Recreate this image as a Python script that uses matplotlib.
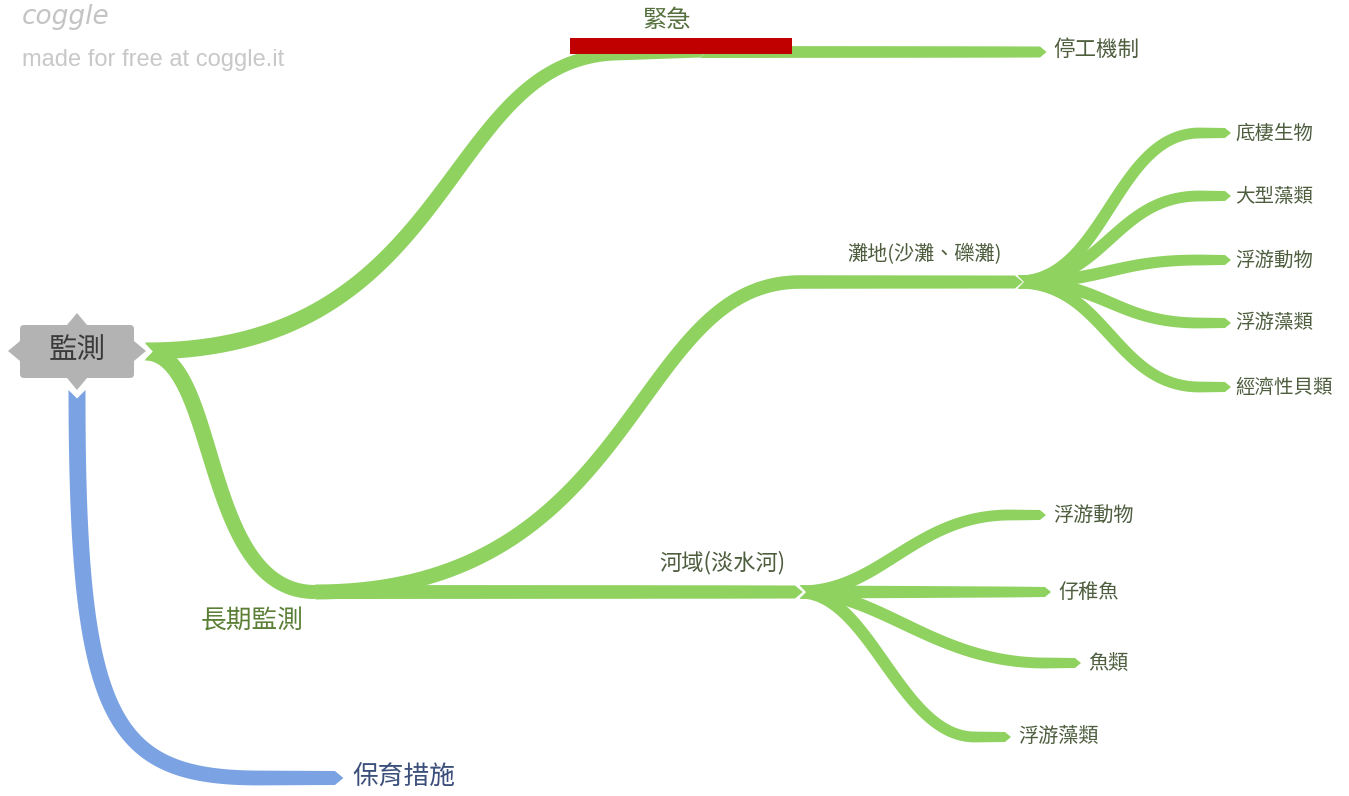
import numpy as np
import matplotlib.pyplot as plt
from matplotlib.patches import Polygon, FancyBboxPatch

plt.rcParams['font.family'] = ['Noto Sans CJK TC', 'DejaVu Sans']

# ------------------------------------------------------------
# Data: nodes of the mind map (pixel coords of the reference)
# ------------------------------------------------------------
root_label = '監測'
root_box = (20, 325, 114, 53)          # x, y, w, h
root_center = (77, 351)

green = '#8fd260'
blue = '#7ba3e3'

# branches: start, ctrl1, ctrl2, end of curve, straight end
branch_names = ['緊急', '停工機制', '長期監測', '灘地(沙灘、礫灘)', '河域(淡水河)', '保育措施']
branch_paths = [
    [(145, 351), (460, 351), (440, 55), (620, 54), (700, 52)],
    [(700, 52), (800, 52), (950, 52), (1000, 52), (1040, 52)],
    [(145, 352), (220, 352), (200, 592), (315, 592), (315, 592)],
    [(315, 592), (640, 592), (630, 282), (800, 282), (1015, 282)],
    [(315, 592), (500, 592), (700, 592), (750, 592), (795, 592)],
    [(77, 390), (77, 720), (110, 778), (260, 778), (335, 778)],
]
branch_widths = [(17, 11), (12, 11), (17, 14), (15, 13), (14, 13), (17, 14)]
branch_colors = [green, green, green, green, green, blue]

# leaves from 灘地
tan_leaves = ['底棲生物', '大型藻類', '浮游動物', '浮游藻類', '經濟性貝類']
tan_leaf_y = [133, 196, 260, 323, 387]
tan_start = (1018, 282)
tan_end_x = 1225

# leaves from 河域
he_leaves = ['浮游動物', '仔稚魚', '魚類', '浮游藻類']
he_leaf_end = [(1040, 515), (1045, 592), (1075, 663), (1005, 737)]
he_ctrl = [((880, 592), (915, 515)), ((900, 592), (950, 592)),
           ((880, 592), (935, 663)), ((870, 592), (900, 737))]
he_start = (800, 592)

txt_col = '#4d5d3e'


def bezier(p0, p1, p2, p3, n=80):
    t = np.linspace(0, 1, n)[:, None]
    p0, p1, p2, p3 = map(np.array, (p0, p1, p2, p3))
    return ((1 - t) ** 3) * p0 + 3 * ((1 - t) ** 2) * t * p1 + 3 * (1 - t) * t ** 2 * p2 + t ** 3 * p3


def branch(ax, path, w0, w1, color, notch=True):
    pts = bezier(*path[:4])
    if path[4] != path[3]:
        ext = np.linspace(path[3], path[4], 30)[1:]
        pts = np.vstack([pts, ext])
    d = np.gradient(pts, axis=0)
    d /= np.linalg.norm(d, axis=1)[:, None] + 1e-9
    nrm = np.column_stack([-d[:, 1], d[:, 0]])
    s = np.linspace(0, 1, len(pts))[:, None]
    w = (w0 + (w1 - w0) * s) / 2
    left = pts + nrm * w
    right = pts - nrm * w
    tip = pts[-1] + d[-1] * w1 * 0.6
    poly = [*left, tip, *right[::-1]]
    if notch:
        poly.append(pts[0] + d[0] * w0 * 0.5)
    ax.add_patch(Polygon(poly, closed=True, fc=color, ec='none', zorder=2))


fig = plt.figure(figsize=(13.49, 7.96), dpi=100)
ax = fig.add_axes([0, 0, 1, 1])
ax.set_xlim(0, 1349)
ax.set_ylim(796, 0)
ax.axis('off')

# branches
for p, (w0, w1), c in zip(branch_paths, branch_widths, branch_colors):
    branch(ax, p, w0, w1, c)

for y, lab in zip(tan_leaf_y, tan_leaves):
    p0 = tan_start
    p3 = (tan_end_x - 25, y)
    branch(ax, [p0, (1105, p0[1]), (1115, y), p3, (tan_end_x, y)], 13, 10, green)
    ax.text(1235, y, lab, fontsize=14, color=txt_col, va='center', ha='left', weight='medium')

for (ex, ey), (c1, c2), lab in zip(he_leaf_end, he_ctrl, he_leaves):
    branch(ax, [he_start, c1, c2, (ex - 30, ey), (ex, ey)], 13, 10, green)
    ax.text(ex + 13, ey, lab, fontsize=14.5, color=txt_col, va='center', ha='left', weight='medium')

# root node
bx, by, bw, bh = root_box
ax.add_patch(FancyBboxPatch((bx, by), bw, bh, boxstyle='round,pad=0,rounding_size=4',
                            fc='#b3b3b3', ec='none', zorder=3))
cx, cy = root_center
for tri in [[(bx, cy - 10), (bx - 12, cy), (bx, cy + 10)],
            [(bx + bw, cy - 10), (bx + bw + 12, cy), (bx + bw, cy + 10)],
            [(cx - 10, by), (cx, by - 12), (cx + 10, by)],
            [(cx - 10, by + bh), (cx, by + bh + 12), (cx + 10, by + bh)]]:
    ax.add_patch(Polygon(tri, closed=True, fc='#b3b3b3', ec='none', zorder=3))
ax.text(cx, cy, root_label, fontsize=20.5, color='#3a3a3a', ha='center', va='center',
        zorder=4, weight='medium')

# red highlight bar
ax.add_patch(plt.Rectangle((570, 38), 222, 16, fc='#c00000', ec='none', zorder=5))

# branch labels
ax.text(667, 20, branch_names[0], fontsize=17.5, color='#56703d', ha='center', va='center', weight='medium')
ax.text(1053, 50, branch_names[1], fontsize=15.5, color=txt_col, ha='left', va='center', weight='medium')
ax.text(252, 622, branch_names[2], fontsize=18.5, color='#5b7f35', ha='center', va='center', weight='medium')
ax.text(925, 255, branch_names[3], fontsize=14.5, color=txt_col, ha='center', va='center', weight='medium')
ax.text(722, 563, branch_names[4], fontsize=16, color=txt_col, ha='center', va='center', weight='medium')
ax.text(352, 778, branch_names[5], fontsize=18.5, color='#3b4f7a', ha='left', va='center', weight='medium')

# coggle watermark
ax.text(22, 17, 'coggle', fontsize=19, color='#c4c4c4', style='italic',
        family='DejaVu Sans', ha='left', va='center')
ax.text(22, 60, 'made for free at coggle.it', fontsize=17, color='#c8c8c8',
        family='Liberation Sans', ha='left', va='center')

fig.savefig('out.png', dpi=100)
